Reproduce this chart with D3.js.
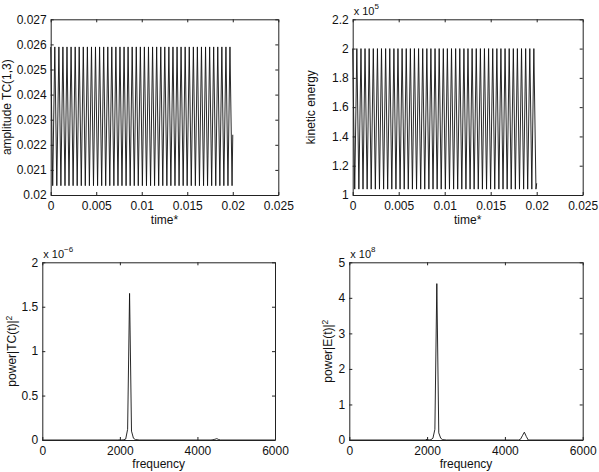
<!DOCTYPE html>
<html>
<head>
<meta charset="utf-8">
<script src="https://cdn.jsdelivr.net/npm/d3@7"></script>
<style>
  body { margin: 0; background: #fff; }
  text { font-family: "Liberation Sans", Arial, Helvetica, sans-serif; fill: #111; }
</style>
</head>
<body>
<div id="chart"></div>
<script>
// Tiempos de los extremos de la oscilación (s)
var tiempos = [
  0, 0.00022, 0.00045, 0.00067, 0.00090, 0.00112, 0.00134, 0.00157, 0.00179, 0.00201,
  0.00224, 0.00246, 0.00269, 0.00291, 0.00313, 0.00336, 0.00358, 0.00380, 0.00403, 0.00425,
  0.00448, 0.00470, 0.00492, 0.00515, 0.00537, 0.00560, 0.00582, 0.00604, 0.00627, 0.00649,
  0.00671, 0.00694, 0.00716, 0.00739, 0.00761, 0.00783, 0.00806, 0.00828, 0.00850, 0.00873,
  0.00895, 0.00918, 0.00940, 0.00962, 0.00985, 0.01007, 0.01029, 0.01052, 0.01074, 0.01097,
  0.01119, 0.01141, 0.01164, 0.01186, 0.01209, 0.01231, 0.01253, 0.01276, 0.01298, 0.01320,
  0.01343, 0.01365, 0.01388, 0.01410, 0.01432, 0.01455, 0.01477, 0.01499, 0.01522, 0.01544,
  0.01567, 0.01589, 0.01611, 0.01634, 0.01656, 0.01679, 0.01701, 0.01723, 0.01746, 0.01768,
  0.01790, 0.01813, 0.01835, 0.01858, 0.01880, 0.01902, 0.01925, 0.01947, 0.01969, 0.01992,
  0.02
];

// amplitude TC(1,3)
var amplitudTC = [
  0.0259, 0.02037, 0.0259, 0.02037, 0.0259, 0.02037, 0.0259, 0.02037, 0.0259, 0.02037,
  0.0259, 0.02037, 0.0259, 0.02037, 0.0259, 0.02037, 0.0259, 0.02037, 0.0259, 0.02037,
  0.0259, 0.02037, 0.0259, 0.02037, 0.0259, 0.02037, 0.0259, 0.02037, 0.0259, 0.02037,
  0.0259, 0.02037, 0.0259, 0.02037, 0.0259, 0.02037, 0.0259, 0.02037, 0.0259, 0.02037,
  0.0259, 0.02037, 0.0259, 0.02037, 0.0259, 0.02037, 0.0259, 0.02037, 0.0259, 0.02037,
  0.0259, 0.02037, 0.0259, 0.02037, 0.0259, 0.02037, 0.0259, 0.02037, 0.0259, 0.02037,
  0.0259, 0.02037, 0.0259, 0.02037, 0.0259, 0.02037, 0.0259, 0.02037, 0.0259, 0.02037,
  0.0259, 0.02037, 0.0259, 0.02037, 0.0259, 0.02037, 0.0259, 0.02037, 0.0259, 0.02037,
  0.0259, 0.02037, 0.0259, 0.02037, 0.0259, 0.02037, 0.0259, 0.02037, 0.0259, 0.02037,
  0.0224
];

// kinetic energy (x 10^5)
var energiaCinetica = [
  2.0, 1.04, 2.0, 1.04, 2.0, 1.04, 2.0, 1.04, 2.0, 1.04,
  2.0, 1.04, 2.0, 1.04, 2.0, 1.04, 2.0, 1.04, 2.0, 1.04,
  2.0, 1.04, 2.0, 1.04, 2.0, 1.04, 2.0, 1.04, 2.0, 1.04,
  2.0, 1.04, 2.0, 1.04, 2.0, 1.04, 2.0, 1.04, 2.0, 1.04,
  2.0, 1.04, 2.0, 1.04, 2.0, 1.04, 2.0, 1.04, 2.0, 1.04,
  2.0, 1.04, 2.0, 1.04, 2.0, 1.04, 2.0, 1.04, 2.0, 1.04,
  2.0, 1.04, 2.0, 1.04, 2.0, 1.04, 2.0, 1.04, 2.0, 1.04,
  2.0, 1.04, 2.0, 1.04, 2.0, 1.04, 2.0, 1.04, 2.0, 1.04,
  2.0, 1.04, 2.0, 1.04, 2.0, 1.04, 2.0, 1.04, 2.0, 1.04,
  1.08
];

// Espectros
var frecuencias = [0, 1950, 2000, 2050, 2100, 2150, 2200, 2250, 2300, 2350, 2400, 2500, 4350, 4400, 4450, 4500, 4550, 4600, 6000];
var potenciaTC = [0, 0, 0.002, 0, 0.003, 0.01, 0.12, 1.65, 0.1, 0.02, 0.005, 0, 0, 0.003, 0.008, 0.015, 0.005, 0, 0];
var potenciaE = [0, 0, 0.02, 0, 0.01, 0.05, 0.3, 4.4, 0.2, 0.05, 0.01, 0, 0, 0.02, 0.12, 0.22, 0.1, 0, 0];

// Ticks
var ticksTiempo = [0, 0.005, 0.01, 0.015, 0.02, 0.025];
var ticksTC = [0.02, 0.021, 0.022, 0.023, 0.024, 0.025, 0.026, 0.027];
var ticksEnergia = [1, 1.2, 1.4, 1.6, 1.8, 2, 2.2];
var ticksFrecuencia = [0, 2000, 4000, 6000];
var ticksPotTC = [0, 0.5, 1, 1.5, 2];
var ticksPotE = [0, 1, 2, 3, 4, 5];

var svg = d3.select("#chart")
    .append("svg")
    .attr("width", 599)
    .attr("height", 472);

function dibujarPanel(p) {
  var x = d3.scaleLinear().domain(p.xDom).range([p.left, p.right]);
  var y = d3.scaleLinear().domain(p.yDom).range([p.bottom, p.top]);
  var g = svg.append("g");

  // Línea
  var linea = d3.line()
      .x(function(d, i) { return x(p.xs[i]); })
      .y(function(d) { return y(d); });
  g.append("path")
      .datum(p.ys)
      .attr("d", linea)
      .attr("fill", "none")
      .attr("stroke", "#111")
      .attr("stroke-width", 0.9);

  // Ejes (ticks hacia dentro, como MATLAB)
  var fmt = function(d) { return String(d); };
  g.append("g")
      .attr("transform", "translate(0," + p.bottom + ")")
      .call(d3.axisBottom(x).tickValues(p.xTicks).tickFormat(fmt).tickSize(-3).tickSizeOuter(0).tickPadding(6));
  g.append("g")
      .attr("transform", "translate(0," + p.top + ")")
      .call(d3.axisTop(x).tickValues(p.xTicks).tickFormat("").tickSize(-3).tickSizeOuter(0));
  g.append("g")
      .attr("transform", "translate(" + p.left + ",0)")
      .call(d3.axisLeft(y).tickValues(p.yTicks).tickFormat(fmt).tickSize(-3).tickSizeOuter(0).tickPadding(4));
  g.append("g")
      .attr("transform", "translate(" + p.right + ",0)")
      .call(d3.axisRight(y).tickValues(p.yTicks).tickFormat("").tickSize(-3).tickSizeOuter(0));

  g.selectAll(".tick text")
      .style("font-family", '"Liberation Sans", Arial, sans-serif')
      .style("font-size", "12px")
      .attr("fill", "#111");
  g.selectAll(".domain, .tick line").attr("stroke", "#222");

  // Título eje X
  g.append("text")
      .attr("x", (p.left + p.right) / 2)
      .attr("y", p.xLabelY)
      .attr("text-anchor", "middle")
      .style("font-size", "12px")
      .text(p.xLabel);

  // Título eje Y
  var ty = g.append("text")
      .attr("transform", "translate(" + p.yLabelX + "," + ((p.top + p.bottom) / 2) + ") rotate(-90)")
      .attr("text-anchor", "middle")
      .style("font-size", "12px")
      .text(p.yLabel);
  if (p.yLabelSup) {
    ty.append("tspan").attr("dy", "-0.45em").style("font-size", "8.5px").text(p.yLabelSup);
  }

  // Exponente
  if (p.expo) {
    var te = g.append("text")
        .attr("x", p.left + 1)
        .attr("y", p.top - 4)
        .style("font-size", "11px")
        .text("x 10");
    te.append("tspan").attr("dy", "-0.75em").style("font-size", "8px").text(p.expo);
  }
}

dibujarPanel({
  left: 50.7, right: 278.3, top: 19.3, bottom: 195,
  xDom: [0, 0.025], yDom: [0.02, 0.027],
  xTicks: ticksTiempo, yTicks: ticksTC,
  xs: tiempos, ys: amplitudTC,
  xLabel: "time*", xLabelY: 224,
  yLabel: "amplitude TC(1,3)", yLabelX: 10.5
});

dibujarPanel({
  left: 352.7, right: 582.7, top: 19.3, bottom: 195,
  xDom: [0, 0.025], yDom: [1, 2.2],
  xTicks: ticksTiempo, yTicks: ticksEnergia,
  xs: tiempos, ys: energiaCinetica,
  xLabel: "time*", xLabelY: 224,
  yLabel: "kinetic energy", yLabelX: 315,
  expo: "5"
});

dibujarPanel({
  left: 42.3, right: 275, top: 262.3, bottom: 440,
  xDom: [0, 6000], yDom: [0, 2],
  xTicks: ticksFrecuencia, yTicks: ticksPotTC,
  xs: frecuencias, ys: potenciaTC,
  xLabel: "frequency", xLabelY: 468,
  yLabel: "power|TC(t)|", yLabelSup: "2", yLabelX: 15.5,
  expo: "\u22126"
});

dibujarPanel({
  left: 349.3, right: 582.7, top: 262.3, bottom: 440,
  xDom: [0, 6000], yDom: [0, 5],
  xTicks: ticksFrecuencia, yTicks: ticksPotE,
  xs: frecuencias, ys: potenciaE,
  xLabel: "frequency", xLabelY: 468,
  yLabel: "power|E(t)|", yLabelSup: "2", yLabelX: 332,
  expo: "8"
});
</script>
</body>
</html>
